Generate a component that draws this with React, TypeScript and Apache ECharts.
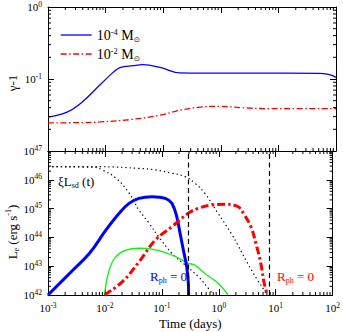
import React, { useEffect, useRef } from 'react';
import * as echarts from 'echarts';

const FONT = '"Liberation Serif", "Times New Roman", serif';

const X_MIN = 1e-3;
const X_MAX = 1e2;
const TOP_Y_MIN = 1e-2;
const TOP_Y_MAX = 1;
const BOT_Y_MIN = 1e42;
const BOT_Y_MAX = 1e47;

// Upper panel: gamma - 1 vs time
const topBlue: number[][] = [
  [0.001, 0.0296], [0.00214, 0.0347], [0.00406, 0.049], [0.008, 0.083], [0.0134, 0.1226],
  [0.0178, 0.1437], [0.03, 0.153], [0.0446, 0.158], [0.088, 0.145], [0.196, 0.1214],
  [0.435, 0.121], [3.2, 0.121], [50, 0.12], [77, 0.115], [100, 0.1055],
];
const topRed: number[][] = [
  [0.001, 0.0246], [0.004, 0.0248], [0.008, 0.0253], [0.03, 0.0276], [0.088, 0.0314],
  [0.196, 0.0368], [0.435, 0.0408], [0.97, 0.0418], [2.15, 0.0401], [6.3, 0.0388], [100, 0.0388],
];

// Lower panel: L_e vs time
const lowBlue: number[][] = [
  [0.001, 1e42], [0.00275, 7.4e42], [0.00536, 2.8e43], [0.01045, 1.82e44], [0.0178, 6.9e44],
  [0.0265, 1.52e45], [0.0396, 2.27e45], [0.0673, 2.59e45], [0.115, 2.27e45], [0.15, 1.52e45],
  [0.183, 5.2e44], [0.209, 1.39e44], [0.239, 3.6e43], [0.273, 9.6e42], [0.292, 2.6e42], [0.295, 1e42],
];
const lowRed: number[][] = [
  [0.0098, 1e42], [0.0203, 2.9e42], [0.0396, 1.41e43], [0.077, 8.1e43], [0.15, 2.35e44],
  [0.292, 6.9e44], [0.435, 1.02e45], [0.741, 1.33e45], [1.26, 1.41e45], [2.15, 1.18e45],
  [2.82, 6.0e44], [3.67, 2.35e44], [4.48, 6.3e43], [5.47, 1.26e43], [6.27, 2.6e42], [7.15, 1e42],
];
const lowGreen: number[][] = [
  [0.0098, 1e42], [0.0119, 7.4e42], [0.0156, 2.14e43], [0.0232, 3.6e43], [0.0396, 4.2e43],
  [0.0673, 3.9e43], [0.15, 2.45e43], [0.292, 1.26e43], [0.382, 1.1e43], [0.569, 5.6e42],
  [0.968, 2.6e42], [1.45, 1e42],
];
const lowDotA: number[][] = [
  [0.001, 2.85e46], [0.008, 2.85e46], [0.0396, 2.5e46], [0.077, 2.2e46], [0.15, 1.7e46],
  [0.256, 1.29e46], [0.382, 7.6e45], [0.569, 3.4e45], [0.968, 6.9e44], [1.65, 1.39e44],
  [2.15, 5.5e43], [3.21, 1.26e43], [4.8, 3.3e42], [6.27, 1.48e42], [6.95, 1e42],
];
const lowDotB: number[][] = [
  [0.001, 2.85e46], [0.00655, 2.7e46], [0.009, 2.2e46], [0.0156, 1.15e46], [0.0265, 3.5e45],
  [0.0396, 8.9e44], [0.059, 3.2e44], [0.088, 1.05e44], [0.15, 2.8e43], [0.256, 1.1e43],
  [0.435, 4.4e42], [0.695, 1.48e42], [0.793, 1e42],
];
const rphZeroT: number[] = [0.29, 7.8];

const MINOR_MULTS = [2, 3, 4, 5, 6, 7, 8, 9];

function minorTicks(min: number, max: number): number[] {
  const out: number[] = [];
  const e0 = Math.round(Math.log10(min));
  const e1 = Math.round(Math.log10(max));
  for (let e = e0; e < e1; e++) {
    for (const m of MINOR_MULTS) out.push(m * Math.pow(10, e));
  }
  return out;
}

const tickRich = {
  b: { fontFamily: FONT, fontSize: 11, lineHeight: 14, color: '#000' },
  s: { fontFamily: FONT, fontSize: 7.5, lineHeight: 7, verticalAlign: 'top', color: '#000' },
};
const powLabel = (v: number) => `{b|10}{s|${Math.round(Math.log10(v))}}`;

function xAxisDef(gridIndex: number, position: string, showLabel: boolean, extra: any = {}) {
  return {
    type: 'log', logBase: 10, gridIndex, position, min: X_MIN, max: X_MAX,
    axisLine: { show: true, onZero: false, lineStyle: { color: '#000', width: 1 } },
    axisTick: { show: true, inside: true, length: 6, lineStyle: { color: '#000', width: 1 } },
    axisLabel: { show: showLabel, formatter: powLabel, rich: tickRich, margin: 6 },
    splitLine: { show: false },
    ...extra,
  };
}
function yAxisDef(gridIndex: number, position: string, min: number, max: number, showLabel: boolean) {
  return {
    type: 'log', logBase: 10, gridIndex, position, min, max,
    axisLine: { show: true, onZero: false, lineStyle: { color: '#000', width: 1 } },
    axisTick: { show: true, inside: true, length: 6, lineStyle: { color: '#000', width: 1 } },
    axisLabel: { show: showLabel, formatter: powLabel, rich: tickRich, margin: 6, showMinLabel: false },
    splitLine: { show: false },
  };
}

function xMinorSeries(xi: number, yi: number, yMin: number, yMax: number) {
  return {
    type: 'custom', xAxisIndex: xi, yAxisIndex: yi, silent: true, clip: false, z: 5,
    data: minorTicks(X_MIN, X_MAX).map((v) => [v, yMin]),
    encode: { x: 0, y: 1 },
    renderItem: (_p: any, api: any) => {
      const v = api.value(0);
      const b = api.coord([v, yMin]);
      const t = api.coord([v, yMax]);
      return {
        type: 'group',
        children: [
          { type: 'line', shape: { x1: b[0], y1: b[1], x2: b[0], y2: b[1] - 3 }, style: { stroke: '#000', lineWidth: 1 } },
          { type: 'line', shape: { x1: t[0], y1: t[1], x2: t[0], y2: t[1] + 3 }, style: { stroke: '#000', lineWidth: 1 } },
        ],
      };
    },
  };
}
function yMinorSeries(xi: number, yi: number, yMin: number, yMax: number) {
  return {
    type: 'custom', xAxisIndex: xi, yAxisIndex: yi, silent: true, clip: false, z: 5,
    data: minorTicks(yMin, yMax).map((v) => [X_MIN, v]),
    encode: { x: 0, y: 1 },
    renderItem: (_p: any, api: any) => {
      const v = api.value(1);
      const l = api.coord([X_MIN, v]);
      const r = api.coord([X_MAX, v]);
      return {
        type: 'group',
        children: [
          { type: 'line', shape: { x1: l[0], y1: l[1], x2: l[0] + 3, y2: l[1] }, style: { stroke: '#000', lineWidth: 1 } },
          { type: 'line', shape: { x1: r[0], y1: r[1], x2: r[0] - 3, y2: r[1] }, style: { stroke: '#000', lineWidth: 1 } },
        ],
      };
    },
  };
}

const BLUE = '#0000ff';
const RED = '#ff0000';
const GREEN = '#11ee11';

function lineSeries(name: string, xi: number, yi: number, data: number[][], color: string, width: number, type: any, extra: any = {}) {
  return {
    name, type: 'line', xAxisIndex: xi, yAxisIndex: yi, data,
    showSymbol: false, symbol: 'none', smooth: 0.4,
    lineStyle: { color, width, type, cap: 'butt' },
    itemStyle: { color },
    z: 3,
    ...extra,
  };
}

const legendRich = {
  b: { fontFamily: FONT, fontSize: 14, lineHeight: 16, color: '#000' },
  s: { fontFamily: FONT, fontSize: 8.5, lineHeight: 8, verticalAlign: 'top', color: '#000' },
  o: { fontFamily: '"DejaVu Sans", sans-serif', fontSize: 7.5, lineHeight: 8, verticalAlign: 'bottom', color: '#000' },
};

function annot(x: number, y: number, color: string, text: string, align: string) {
  return {
    type: 'text', x, y,
    style: {
      text, align, verticalAlign: 'middle',
      rich: {
        m: { fontFamily: FONT, fontSize: 13, lineHeight: 16, fill: color },
        sub: { fontFamily: FONT, fontSize: 8, lineHeight: 8, verticalAlign: 'bottom', fill: color },
        sup: { fontFamily: FONT, fontSize: 8, lineHeight: 8, verticalAlign: 'top', fill: color },
      },
    },
  };
}

export default function App() {
  const ref = useRef<HTMLDivElement>(null);
  useEffect(() => {
    if (!ref.current) return;
    const chart = echarts.init(ref.current, null, { renderer: 'svg' });
    const option: any = {
      animation: false,
      backgroundColor: '#fff',
      grid: [
        { left: 48, top: 6, width: 288, height: 145 },
        { left: 48, top: 151, width: 288, height: 144 },
      ],
      xAxis: [
        xAxisDef(0, 'bottom', false),
        xAxisDef(0, 'top', false),
        xAxisDef(1, 'bottom', true, {
          name: 'Time (days)', nameLocation: 'middle', nameGap: 22,
          nameTextStyle: { fontFamily: FONT, fontSize: 13, color: '#000' },
        }),
        xAxisDef(1, 'top', false),
      ],
      yAxis: [
        yAxisDef(0, 'left', TOP_Y_MIN, TOP_Y_MAX, true),
        yAxisDef(0, 'right', TOP_Y_MIN, TOP_Y_MAX, false),
        yAxisDef(1, 'left', BOT_Y_MIN, BOT_Y_MAX, true),
        yAxisDef(1, 'right', BOT_Y_MIN, BOT_Y_MAX, false),
      ],
      legend: {
        data: ['m4', 'm2'], orient: 'vertical', left: 60, top: 27, padding: 0,
        itemWidth: 31, itemHeight: 10, itemGap: 3, selectedMode: false,
        itemStyle: { opacity: 0, borderWidth: 0 },
        lineStyle: { width: 1.3 },
        textStyle: { rich: legendRich },
        formatter: (n: string) => (n === 'm4' ? '{b|10}{s|-4}{b| M}{o|⊙}' : '{b|10}{s|-2}{b| M}{o|⊙}'),
      },
      graphic: [
        {
          type: 'text', x: 12, y: 83, rotation: Math.PI / 2,
          style: { text: 'γ-1', fontFamily: FONT, fontSize: 13, fill: '#000', align: 'center', verticalAlign: 'middle' },
        },
        {
          ...annot(12, 232, '#000', '{m|L}{sub|e}{m| (erg s}{sup|-1}{m|)}', 'center'),
          rotation: Math.PI / 2,
        },
        annot(58, 181, '#000', '{m|ξL}{sub|sd}{m| (t)}', 'left'),
        annot(150, 276, BLUE, '{m|R}{sub|ph}{m| = 0}', 'left'),
        annot(277, 276, RED, '{m|R}{sub|ph}{m| = 0}', 'left'),
      ],
      series: [
        lineSeries('m4', 0, 0, topBlue, BLUE, 1.3, 'solid'),
        lineSeries('m2', 0, 0, topRed, RED, 1.3, [6, 2.5, 1.5, 2.5]),
        lineSeries('dotA', 2, 2, lowDotA, '#000', 1.2, [1.3, 3]),
        lineSeries('dotB', 2, 2, lowDotB, '#000', 1.2, [1.3, 3]),
        lineSeries('green', 2, 2, lowGreen, GREEN, 1.3, 'solid'),
        lineSeries('blueL', 2, 2, lowBlue, BLUE, 3, 'solid', {
          markLine: {
            silent: true, symbol: 'none', label: { show: false },
            lineStyle: { color: '#000', type: [5, 3.5], width: 1.2 },
            data: rphZeroT.map((t) => ({ xAxis: t })),
          },
        }),
        lineSeries('redL', 2, 2, lowRed, RED, 3, [8, 3, 2.5, 3]),
        xMinorSeries(0, 0, TOP_Y_MIN, TOP_Y_MAX),
        yMinorSeries(0, 0, TOP_Y_MIN, TOP_Y_MAX),
        xMinorSeries(2, 2, BOT_Y_MIN, BOT_Y_MAX),
        yMinorSeries(2, 2, BOT_Y_MIN, BOT_Y_MAX),
      ],
    };
    chart.setOption(option);
    return () => chart.dispose();
  }, []);
  return <div ref={ref} style={{ position: 'fixed', left: 0, top: 0, width: 343, height: 332 }} />;
}
